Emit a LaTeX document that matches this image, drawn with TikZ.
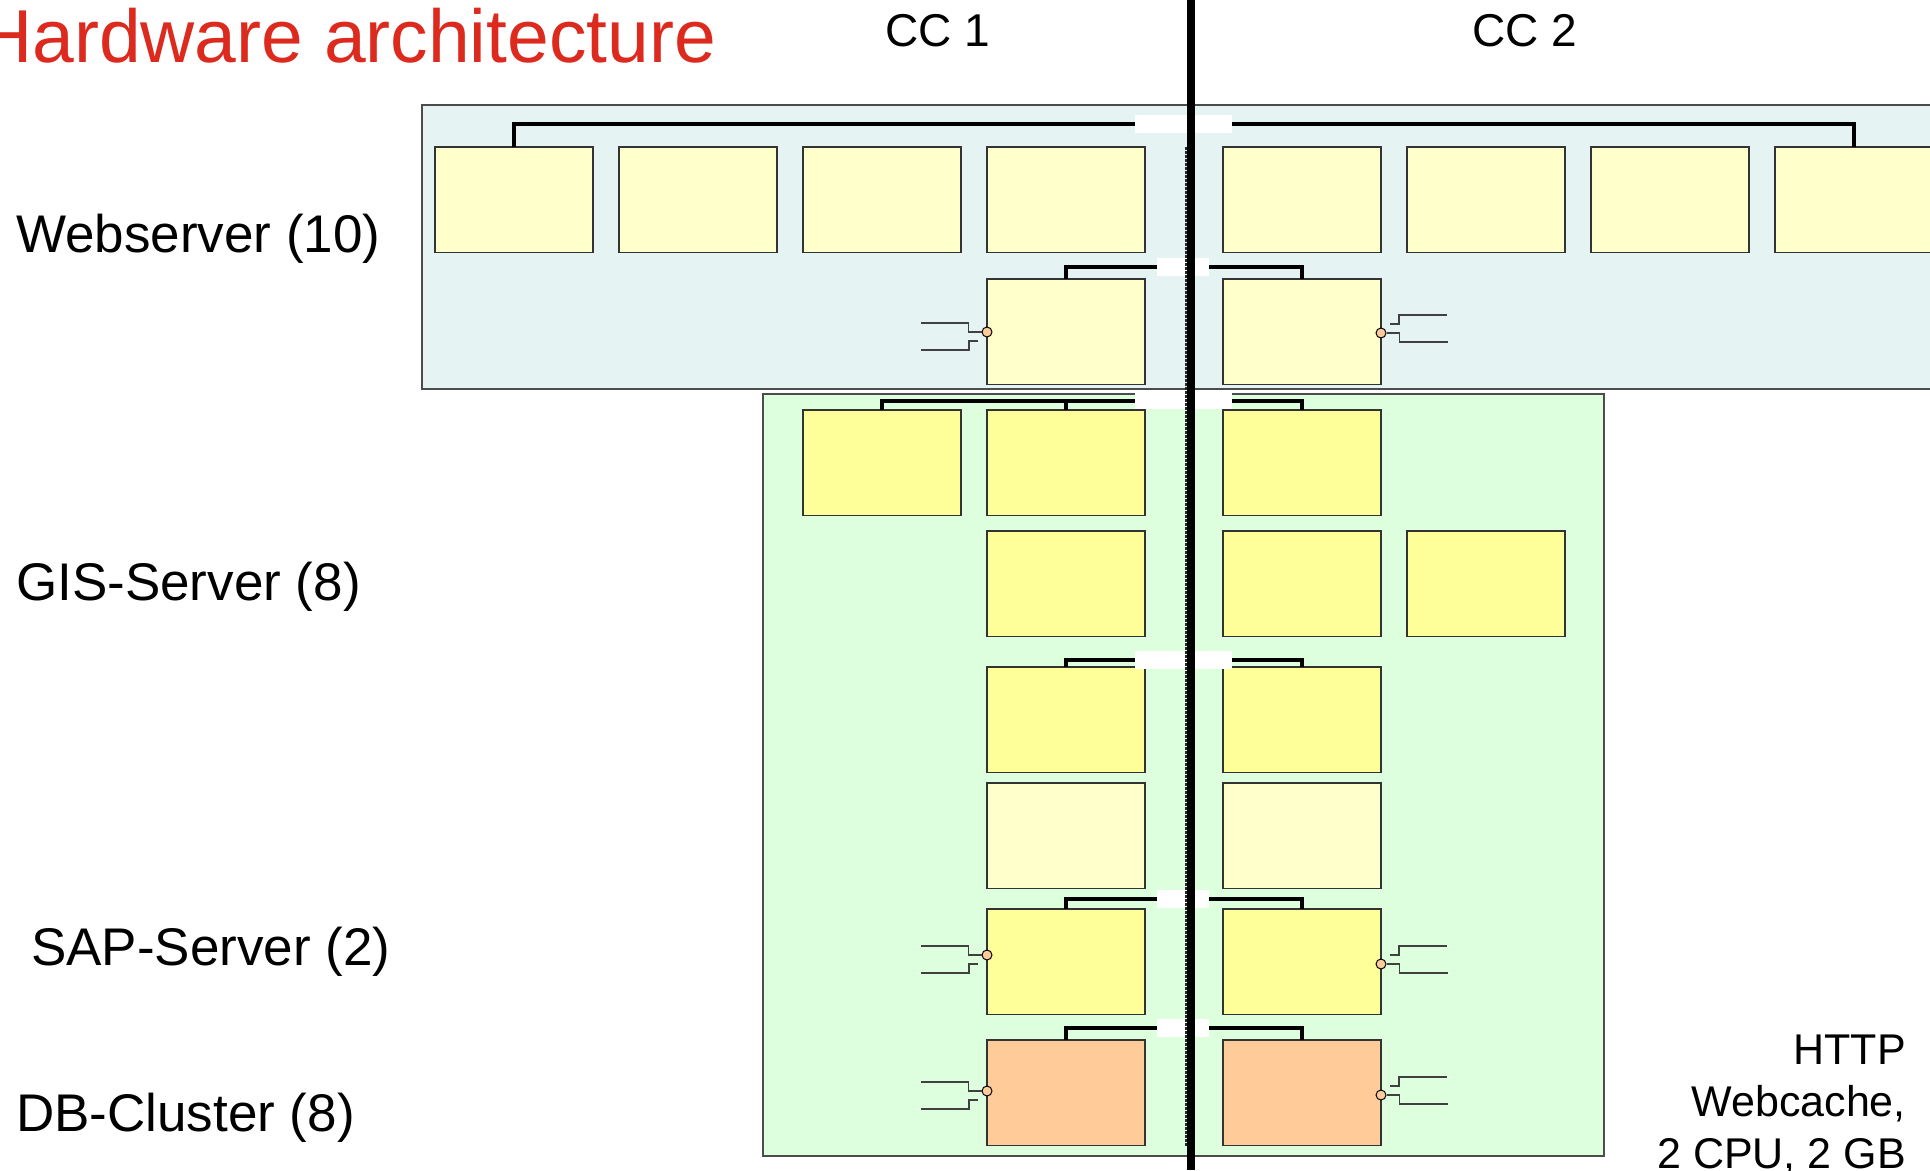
\documentclass[tikz,border=0pt]{standalone}
\usepackage{fontspec}
\setmainfont{Liberation Sans}
\definecolor{webpanel}{HTML}{E6F3F3}
\definecolor{gispanel}{HTML}{DDFFDD}
\definecolor{lightyellow}{HTML}{FFFFCC}
\definecolor{gisyellow}{HTML}{FFFF99}
\definecolor{dborange}{HTML}{FFCC99}
\definecolor{titlered}{HTML}{DC2A1E}
\begin{document}
\begin{tikzpicture}[x=1pt,y=-1pt,
  panel/.style={draw=black!70, line width=1.1pt, anchor=north west, inner sep=0pt, outer sep=0pt},
  box/.style={draw=black!80, line width=1.1pt, minimum width=158pt, minimum height=105.5pt, inner sep=0pt, outer sep=0pt, anchor=north west},
  webbox/.style={box, fill=lightyellow},
  gisbox/.style={box, fill=gisyellow},
  dbbox/.style={box, fill=dborange},
  bus/.style={line width=4pt},
  gapbox/.style={fill=white},
  port/.style={circle, draw=black, line width=1pt, fill=dborange, minimum size=10pt, inner sep=0pt},
  wire/.style={draw=black!75, line width=1.2pt},
  label/.style={font=\fontsize{53}{63}\selectfont, anchor=base west, inner sep=0pt},
  cclabel/.style={font=\fontsize{46}{55}\selectfont, anchor=base, inner sep=0pt},
]
\useasboundingbox (0,0) rectangle (1930,1170);
\clip (0,0) rectangle (1930,1170);

% panels
\node[panel, fill=webpanel, minimum width=1530pt, minimum height=284pt] (webpanel) at (422,105) {};
\node[panel, fill=gispanel, minimum width=841pt, minimum height=762pt] (gispanel) at (763,394) {};

% webserver boxes
\node[webbox] (w1) at (435,147) {};
\node[webbox] (w2) at (619,147) {};
\node[webbox] (w3) at (803,147) {};
\node[webbox] (w4) at (987,147) {};
\node[webbox] (w5) at (1223,147) {};
\node[webbox] (w6) at (1407,147) {};
\node[webbox] (w7) at (1591,147) {};
\node[webbox] (w8) at (1775,147) {};
\node[webbox] (v1) at (987,279) {};
\node[webbox] (v2) at (1223,279) {};

% GIS boxes
\node[gisbox] (g1) at (803,410) {};
\node[gisbox] (g2) at (987,410) {};
\node[gisbox] (g3) at (1223,410) {};
\node[gisbox] (g4) at (987,531) {};
\node[gisbox] (g5) at (1223,531) {};
\node[gisbox] (g6) at (1407,531) {};
\node[gisbox] (h1) at (987,667) {};
\node[gisbox] (h2) at (1223,667) {};
\node[webbox] (h3) at (987,783) {};
\node[webbox] (h4) at (1223,783) {};

% SAP and DB boxes
\node[gisbox] (s1) at (987,909) {};
\node[gisbox] (s2) at (1223,909) {};
\node[dbbox] (d1) at (987,1040) {};
\node[dbbox] (d2) at (1223,1040) {};

% buses
\draw[bus] (w1.north) -- ++(0,-23) -| (w8.north);
\draw[bus] (v1.north) -- ++(0,-12) -| (v2.north);
\draw[bus] (g1.north) -- ++(0,-9) -| (g3.north);
\draw[bus] (g2.north) -- ++(0,-9);
\draw[bus] (h1.north) -- ++(0,-7.5) -| (h2.north);
\draw[bus] (s1.north) -- ++(0,-10) -| (s2.north);
\draw[bus] (d1.north) -- ++(0,-12) -| (d2.north);

% white gaps in the buses
\fill[gapbox] (1135,115) rectangle (1232,133);
\fill[gapbox] (1157,258) rectangle (1209,276);
\fill[gapbox] (1135,393) rectangle (1232,409);
\fill[gapbox] (1135,651) rectangle (1232,669);
\fill[gapbox] (1157,890) rectangle (1209,908);
\fill[gapbox] (1157,1019) rectangle (1209,1037);

% divider between CC 1 and CC 2
\coordinate (dtop) at (1185.5,147);
\coordinate (dbot) at (1185.5,1147);
\draw[black!85, line width=2pt, dash pattern=on 2.5pt off 1.5pt] (dtop) -- (dbot);
\coordinate (ltop) at (1191,0);
\coordinate (lbot) at (1191,1170);
\draw[line width=8pt] (ltop) -- (lbot);

% ports
\node[port] (p1) at (987,332) {};
\node[port] (p2) at (1381,333) {};
\node[port] (p3) at (987,955) {};
\node[port] (p4) at (1381,964) {};
\node[port] (p5) at (987,1091) {};
\node[port] (p6) at (1381,1095) {};
\foreach \p in {p1,p3,p5} {
  \draw[wire] (\p.west) -- ++(-13,0) -- ++(0,-9) -- ++(-48,0);
  \draw[wire] ([shift={(-9,9)}]\p.center) -- ++(-9,0) -- ++(0,9) -- ++(-48,0);
}
\foreach \p in {p2,p4,p6} {
  \draw[wire] (\p.east) -- ++(13,0) -- ++(0,9) -- ++(48,0);
  \draw[wire] ([shift={(9,-9)}]\p.center) -- ++(9,0) -- ++(0,-9) -- ++(48,0);
}

% texts
\node[font=\fontsize{75}{90}\selectfont, text=titlered, anchor=base west, inner sep=0pt] (title) at (-22,62) {Hardware architecture};
\node[cclabel] (cc1) at (938,46) {CC 1};
\node[cclabel] (cc2) at (1525,46) {CC 2};
\node[label] (lweb) at (16,252) {Webserver (10)};
\node[label] (lgis) at (16,600) {GIS-Server (8)};
\node[label] (lsap) at (31,965) {SAP-Server (2)};
\node[label] (ldb) at (16,1131) {DB-Cluster (8)};
\node[font=\fontsize{43}{52}\selectfont, align=right, anchor=north east, inner sep=0pt] (cache) at (1906,1035) {HTTP\\Webcache,\\2 CPU, 2 GB};
\end{tikzpicture}
\end{document}
